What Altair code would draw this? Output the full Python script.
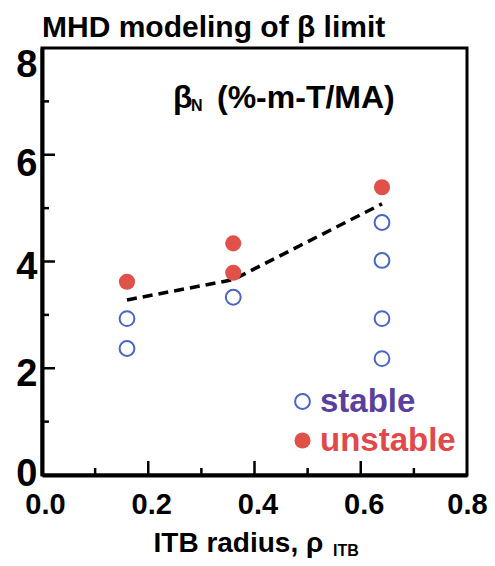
import altair as alt
import pandas as pd

# ---------------- data ----------------
stable_x = [0.16, 0.16, 0.36, 0.64, 0.64, 0.64, 0.64]
stable_y = [2.93, 2.37, 3.33, 4.73, 4.02, 2.93, 2.18]
unstable_x = [0.16, 0.36, 0.36, 0.64]
unstable_y = [3.62, 4.34, 3.79, 5.39]
limit_x = [0.16, 0.36, 0.64]
limit_y = [3.28, 3.66, 5.08]

x_major_ticks = [0.2, 0.4, 0.6]
x_minor_ticks = [0.1, 0.3, 0.5, 0.7]
y_major_ticks = [2, 4, 6]
y_minor_ticks = [1, 3, 5, 7]
x_label_values = [0.0, 0.2, 0.4, 0.6, 0.8]
y_label_values = [0, 2, 4, 6, 8]

title_text = ["MHD modeling of β limit"]
ylabel_main = ["β"]
ylabel_sub = ["N"]
ylabel_unit = ["(%-m-T/MA)"]
xtitle_main = "ITB radius, ρ"
xtitle_sub = ["ITB"]
legend_labels = ["stable", "unstable"]

# ---------------- styling ----------------
W, H = 425, 427
REG = "Liberation Sans, Arial, Helvetica"
BLUE = "#4a66c0"
RED = "#e0514a"
PURPLE = "#5a3f9c"
LRED = "#e2474a"

xs = alt.Scale(domain=[0, 0.8], nice=False, zero=False)
ys = alt.Scale(domain=[0, 8], nice=False, zero=False)

stable_df = pd.DataFrame({"x": stable_x, "y": stable_y, "kind": legend_labels[0]})
unstable_df = pd.DataFrame({"x": unstable_x, "y": unstable_y, "grp": legend_labels[1]})
limit_df = pd.DataFrame({"x": limit_x, "y": limit_y})

xaxis = alt.Axis(
    values=x_label_values, format=".1f", ticks=False, grid=False,
    domainColor="black", domainWidth=4,
    labelFont=REG, labelFontSize=29, labelFontWeight="bold", labelColor="black",
    labelPadding=15, labelOffset=alt.ExprRef("datum.value >= 0.8 ? 0 : 3"), labelFlush=False,
    title=xtitle_main, titleFont=REG, titleFontSize=28, titleFontWeight="bold",
    titleColor="black", titleAlign="left", titleBaseline="alphabetic",
    titleX=111, titleY=76,
)
yaxis = alt.Axis(
    values=y_label_values, format="d", ticks=False, grid=False,
    domainColor="black", domainWidth=4,
    labelFont=REG, labelFontSize=38, labelFontWeight="bold", labelColor="black",
    labelPadding=5, labelFlush=False,
    labelOffset=alt.ExprRef("datum.value == 8 ? 17 : datum.value == 6 ? 10 : datum.value == 0 ? -1 : 6"),
    title=None,
)

base_x = alt.X("x:Q", scale=xs, axis=xaxis)
base_y = alt.Y("y:Q", scale=ys, axis=yaxis)

line = alt.Chart(limit_df).mark_line(
    color="black", strokeWidth=3.5, strokeDash=[10, 6]
).encode(x=base_x, y=base_y)

stable = alt.Chart(stable_df).mark_point(
    shape="circle", filled=False, size=220, strokeWidth=2, opacity=1
).encode(
    x=alt.X("x:Q", scale=xs, axis=xaxis),
    y=alt.Y("y:Q", scale=ys, axis=yaxis),
    stroke=alt.Stroke("kind:N", scale=alt.Scale(domain=[legend_labels[0]], range=[BLUE]),
                      legend=alt.Legend(orient="none", legendX=244, legendY=337, title=None,
                                        labelFont=REG, labelFontSize=33, labelFontWeight="bold",
                                        labelColor=PURPLE, symbolSize=220, symbolStrokeWidth=2,
                                        symbolType="circle", labelOffset=1, padding=0,
                                        labelLimit=0)),
)

unstable = alt.Chart(unstable_df).mark_point(
    shape="circle", filled=True, size=260, opacity=1
).encode(
    x=alt.X("x:Q", scale=xs, axis=xaxis),
    y=alt.Y("y:Q", scale=ys, axis=yaxis),
    fill=alt.Fill("grp:N", scale=alt.Scale(domain=[legend_labels[1]], range=[RED]),
                  legend=alt.Legend(orient="none", legendX=244, legendY=376, title=None,
                                    labelFont=REG, labelFontSize=33, labelFontWeight="bold",
                                    labelColor=LRED, symbolSize=260, symbolStrokeWidth=0,
                                    symbolType="circle", labelOffset=1, padding=0,
                                    labelLimit=0)),
)

# inward tick marks drawn from the tick value lists
xmaj = alt.Chart(pd.DataFrame({"x": x_major_ticks})).mark_rule(color="black", strokeWidth=2.5).encode(
    x=alt.X("x:Q", scale=xs, axis=xaxis), y=alt.value(H), y2=alt.value(H - 14))
xmin = alt.Chart(pd.DataFrame({"x": x_minor_ticks})).mark_rule(color="black", strokeWidth=2.5).encode(
    x=alt.X("x:Q", scale=xs, axis=xaxis), y=alt.value(H), y2=alt.value(H - 7))
ymaj = alt.Chart(pd.DataFrame({"y": y_major_ticks})).mark_rule(color="black", strokeWidth=2.5).encode(
    y=alt.Y("y:Q", scale=ys, axis=yaxis), x=alt.value(0), x2=alt.value(13))
ymin = alt.Chart(pd.DataFrame({"y": y_minor_ticks})).mark_rule(color="black", strokeWidth=2.5).encode(
    y=alt.Y("y:Q", scale=ys, axis=yaxis), x=alt.value(0), x2=alt.value(7))

# chart title
t_title = alt.Chart(pd.DataFrame({"t": title_text})).mark_text(
    font=REG, fontSize=30, fontWeight="bold", align="left", baseline="alphabetic", color="black"
).encode(x=alt.value(0), y=alt.value(-11), text="t:N")

# in-plot quantity label  βN (%-m-T/MA)
t_main = alt.Chart(pd.DataFrame({"t": ylabel_main})).mark_text(
    font=REG, fontSize=32, fontWeight="bold", align="left", baseline="alphabetic", color="black"
).encode(x=alt.value(131), y=alt.value(60), text="t:N")
t_sub = alt.Chart(pd.DataFrame({"t": ylabel_sub})).mark_text(
    font=REG, fontSize=16, fontWeight="bold", align="left", baseline="alphabetic", color="black"
).encode(x=alt.value(149), y=alt.value(63), text="t:N")
t_unit = alt.Chart(pd.DataFrame({"t": ylabel_unit})).mark_text(
    font=REG, fontSize=32, fontWeight="bold", align="left", baseline="alphabetic", color="black"
).encode(x=alt.value(175), y=alt.value(60), text="t:N")
x_sub = alt.Chart(pd.DataFrame({"t": xtitle_sub})).mark_text(
    font=REG, fontSize=16, fontWeight="bold", align="left", baseline="alphabetic", color="black"
).encode(x=alt.value(291), y=alt.value(H + 81), text="t:N")

chart = alt.layer(
    line, stable, unstable, xmaj, xmin, ymaj, ymin, t_title, t_main, t_sub, t_unit, x_sub
).resolve_legend(stroke="independent", fill="independent").properties(
    width=W, height=H,
    autosize=alt.AutoSizeParams(type="none"),
    padding={"left": 34, "top": 40, "right": 20, "bottom": 83},
).configure_view(stroke="black", strokeWidth=3)

chart.save("out.html", embed_options={"renderer": "svg", "actions": False})
